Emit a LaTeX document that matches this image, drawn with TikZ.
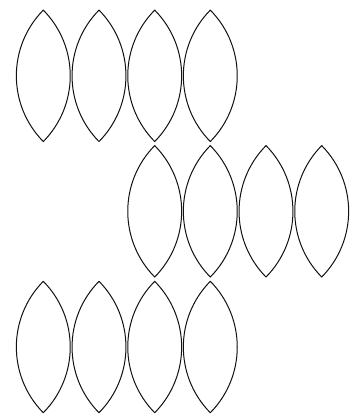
\documentclass[tikz,border=0pt]{standalone}
\usetikzlibrary{calc}
\definecolor{lensInk}{HTML}{111111}

\begin{document}
\begin{tikzpicture}[x=1pt,y=-1pt,line cap=round,line join=round]
\path[fill=white] (0,0) rectangle (350,418);
\tikzset{lens/.style={draw=lensInk,line width=1pt}}
% top row
\foreach \cx in {43.3,99,154.7,210.3} {\draw[lens] (\cx,10.1) arc[start angle=-44.6,end angle=44.6,radius=93.6] arc[start angle=135.4,end angle=224.6,radius=93.6] -- cycle;}
% middle row, shifted right
\foreach \cx in {154.7,210.3,266,321.7} {\draw[lens] (\cx,145.6) arc[start angle=-44.6,end angle=44.6,radius=93.6] arc[start angle=135.4,end angle=224.6,radius=93.6] -- cycle;}
% bottom row
\foreach \cx in {43.3,99,154.7,210.3} {\draw[lens] (\cx,281.3) arc[start angle=-44.6,end angle=44.6,radius=93.6] arc[start angle=135.4,end angle=224.6,radius=93.6] -- cycle;}
\end{tikzpicture}
\end{document}
